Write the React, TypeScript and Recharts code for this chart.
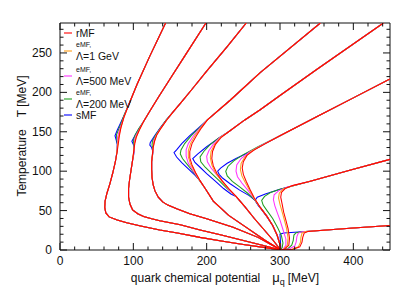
import React from 'react';
import { LineChart, Line, XAxis, YAxis, ReferenceLine } from 'recharts';

type Pt = [number, number]; // [mu_q, T] in MeV

// shared high-T part of each isentrope (from the frame edge down to where the models split)
const upper: Pt[][] = [
  [[144, 288], [122, 245], [105, 210], [94, 185]],
  [[199, 288], [170, 246], [150, 217], [135, 195], [123, 177]],
  [[254, 288], [228, 258], [200, 227], [180, 204], [165, 187], [154, 175]],
  [[355, 288], [273, 225], [232, 190], [201, 165]],
  [[441, 288], [350, 229], [300, 196], [273, 178], [252, 165], [230, 150]],
  [[450, 217], [400, 193], [350, 169], [300, 145]],
  [[450, 115], [400, 102.5], [340, 87]],
  [[450, 31], [400, 28], [350, 24.5]],
];

// shared low-T part (from where the models join again down to T = 0)
const lower: Pt[][] = [
  [[75.5, 112], [72, 98], [68, 84], [64, 72], [61.5, 62], [61, 54], [62.5, 47], [67, 42], [78, 38], [91, 34.5], [110, 30.5], [136, 25.5], [160, 21.5], [191, 16], [220, 11.5], [250, 7], [280, 3], [301, 0]],
  [[99, 114], [97, 102], [95, 90], [93.5, 78], [93.5, 67], [95.5, 58], [99, 51], [106, 46], [114, 42.5], [125, 39.5], [136, 37], [164, 32], [191, 25.5], [220, 19], [250, 12], [280, 5], [301, 0]],
  [[125, 112], [125, 102], [125.5, 92], [127, 83], [129.5, 75], [134, 67], [140, 61], [147, 57], [160, 52], [177, 46], [200, 39.5], [236, 29], [270, 16], [301, 0]],
  [[198, 78], [209, 62], [230, 44], [255, 28], [280, 12], [301, 0]],
  [[240, 68], [252, 55], [265, 40], [278, 26], [290, 13], [301, 0]],
  [[273, 54], [282, 43], [290, 31], [296, 19], [300, 7], [301, 0]],
  [[301, 0]],
  [[301, 0]],
];

// crossover part, per model
const midRMF: Pt[][] = [
  [[87, 168], [83, 155], [81, 145], [79.5, 135], [78, 125]],
  [[114, 163], [108, 152], [104, 143], [102, 135], [100.5, 125]],
  [[145.5, 165], [138, 155], [132, 146], [129, 138], [127, 130], [126, 121]],
  [[193, 155], [186, 145], [180, 135], [177, 125], [177, 117], [180, 108], [185, 98], [191, 88]],
  [[220, 143], [212, 134], [208, 125], [207, 116], [209, 107], [214, 97], [221, 88], [230, 78]],
  [[280, 135], [265, 127], [255, 120], [250, 112], [248.5, 104], [250, 96], [254, 87], [259, 77], [265, 66]],
  [[318, 82], [307, 78], [302, 73], [301, 67], [303, 58], [305, 48], [308, 38], [311, 27], [313, 15], [312, 6], [306, 1]],
  [[338, 23.5], [333, 21.5], [331, 16], [330, 10], [327, 4], [318, 1]],
];
const midE1GeV: Pt[][] = [
  [[87, 168], [83, 155], [80.5, 146], [79, 138], [78, 128], [77, 120]],
  [[114, 163], [108, 152], [103.5, 143], [101.5, 135], [100.5, 125]],
  [[145.5, 165], [138, 155], [131.5, 146], [128.5, 138], [127, 130], [126, 121]],
  [[192, 155], [184, 145], [178, 135], [175, 126], [175, 118], [178, 109], [184, 99], [190, 89]],
  [[219, 143], [211, 134], [206, 125], [205, 117], [207, 108], [212, 98], [220, 88], [229, 79]],
  [[278, 134], [262, 126], [252, 118], [247, 110], [246, 102], [248, 94], [253, 85], [259, 75], [265, 65]],
  [[315, 81], [304, 77], [299, 72], [298, 66], [300, 58], [303, 48], [306, 38], [309, 27], [311, 15], [310, 6], [305, 1]],
  [[335, 23.5], [330, 21.5], [328.5, 16], [328, 10], [325, 4], [316, 1]],
];
const midE500: Pt[][] = [
  [[87, 168], [83, 157], [80, 149], [78.5, 143], [78.5, 136], [78, 128], [77, 120]],
  [[114, 163], [108, 153], [103.5, 145], [101.5, 139], [101.5, 132], [101, 125]],
  [[145.5, 165], [137.5, 155], [131.5, 146], [128, 139], [127.5, 132], [127, 126], [126, 119]],
  [[191, 155], [182, 145], [175, 135], [172, 127], [172, 119], [175, 110], [182, 100], [189, 90]],
  [[218, 143], [209, 134], [203, 126], [200, 119], [201, 112], [206, 104], [214, 95], [223, 85], [232, 75]],
  [[275, 133], [258, 124], [247, 116], [241, 108], [240, 100], [242, 93], [248, 85], [256, 76], [264, 66]],
  [[310, 80], [298, 75], [292, 70], [291, 64], [293, 56], [296, 48], [300, 38], [304, 26], [308, 14], [308, 6], [304, 1]],
  [[330, 23], [325, 21.5], [323, 17], [322, 10], [320, 5], [313, 1.5]],
];
const midE200: Pt[][] = [
  [[87, 170], [83, 160], [79.5, 152], [77, 146], [77.5, 140], [78.5, 134], [78, 127], [77, 120]],
  [[114, 163], [107.5, 154], [102.5, 146], [100, 139], [101, 133], [101, 126], [100, 120]],
  [[145, 165], [137, 155], [130.5, 146], [126, 138], [125.5, 133], [127, 128], [126.5, 122], [125.5, 116]],
  [[190, 155], [179, 145], [170, 135], [165, 127], [164, 122], [167, 116], [174, 108], [181, 100], [188, 91]],
  [[216, 142], [204, 133], [196, 125], [191, 118], [192, 112], [198, 105], [207, 97], [217, 88], [228, 78]],
  [[270, 131], [250, 121], [237, 113], [229, 106], [226, 100], [228, 94], [235, 87], [245, 80], [256, 72], [265, 64]],
  [[300, 77], [287, 73], [279, 68], [275, 63], [277, 57], [283, 49], [290, 40], [297, 28], [302, 18], [304, 9], [303, 3]],
  [[330, 23], [322, 22], [319, 19], [318, 12], [316, 6], [311, 2]],
];
const midSMF: Pt[][] = [
  [[87, 170], [82, 160], [78, 152], [75, 145], [76.5, 140], [78, 134], [78, 128], [77, 121]],
  [[114, 163], [107, 153], [102, 145], [98, 138], [100.5, 133], [101, 127], [100.5, 121]],
  [[145, 165], [136, 154], [129, 145], [123, 136], [122.5, 133], [125, 130], [126.5, 125], [126, 120], [125.5, 116]],
  [[189, 155], [177, 145], [166, 135], [159, 127], [155.5, 123.5], [159, 118], [166, 111], [175, 103], [184, 95], [190, 89]],
  [[215, 141], [200, 131], [188, 122], [181, 116], [184, 111], [191, 105], [200, 97], [211, 88], [223, 78], [233, 71]],
  [[280, 135], [260, 125], [240, 116], [228, 110], [219, 104], [215, 100], [217, 96], [222, 91], [232, 84], [245, 76], [258, 69], [266, 63]],
  [[300, 77], [280, 71], [269, 67], [266, 63], [270, 57], [276, 50], [283, 41], [290, 31], [296, 19], [300, 7]],
  [[320, 22.5], [305, 21.5], [300, 20], [300.5, 12], [301, 5]],
];

const models = [
  { name: 'sMF', color: '#0000ff', mid: midSMF },
  { name: 'eMF200', color: '#1f9e1f', mid: midE200 },
  { name: 'eMF500', color: '#ff33ff', mid: midE500 },
  { name: 'eMF1GeV', color: '#ff9f1a', mid: midE1GeV },
  { name: 'rMF', color: '#ff0000', mid: midRMF },
];

const xMajor = [0, 100, 200, 300, 400];
const yMajor = [0, 50, 100, 150, 200, 250];
const xTicks = Array.from({ length: 23 }, (_, i) => i * 20);
const yTicks = Array.from({ length: 29 }, (_, i) => i * 10);

const W = 412;
const H = 292;
const TOP = 23;
const BOTTOM = 250;
const LEFT = 60;
const RIGHT = 390;
const INK = '#111';
const FONT = '"Liberation Sans", Arial, Helvetica, sans-serif';

function XTick({ x, payload }: any) {
  const major = xMajor.includes(payload.value);
  const len = major ? 7 : 3.5;
  return (
    <g>
      <line x1={x} x2={x} y1={BOTTOM} y2={BOTTOM - len} stroke={INK} />
      <line x1={x} x2={x} y1={TOP} y2={TOP + len} stroke={INK} />
      {major && (
        <text x={x} y={BOTTOM + 15} textAnchor="middle" fontSize={12} fill={INK} fontFamily={FONT}>
          {payload.value}
        </text>
      )}
    </g>
  );
}

function YTick({ y, payload }: any) {
  const major = yMajor.includes(payload.value);
  const len = major ? 7 : 3.5;
  return (
    <g>
      <line x1={LEFT} x2={LEFT + len} y1={y} y2={y} stroke={INK} />
      <line x1={RIGHT} x2={RIGHT - len} y1={y} y2={y} stroke={INK} />
      {major && (
        <text x={LEFT - 8} y={y + 4} textAnchor="end" fontSize={12} fill={INK} fontFamily={FONT}>
          {payload.value}
        </text>
      )}
    </g>
  );
}

// legend: two-line entries have a small "eMF," above the Λ label
const legendRows = [
  { color: '#ff0000', lineY: 33, small: '', main: 'rMF' },
  { color: '#ff9f1a', lineY: 51, small: 'eMF,', main: 'Λ=1 GeV' },
  { color: '#ff33ff', lineY: 76, small: 'eMF,', main: 'Λ=500 MeV' },
  { color: '#1f9e1f', lineY: 99, small: 'eMF,', main: 'Λ=200 MeV' },
  { color: '#0000ff', lineY: 115, small: '', main: 'sMF' },
];

export default function App() {
  const series = models.flatMap((m) =>
    upper.map((u, i) => ({
      key: `${m.name}-${i}`,
      color: m.color,
      data: [...u, ...m.mid[i], ...lower[i]].map(([mu, T]) => ({ mu, T })),
    }))
  );

  return (
    <div style={{ position: 'absolute', left: 0, top: 0, width: W, height: H, background: '#fff' }}>
      <LineChart width={W} height={H} margin={{ top: TOP, right: W - RIGHT, bottom: 0, left: 0 }}>
        <XAxis
          type="number"
          dataKey="mu"
          domain={[0, 450]}
          ticks={xTicks}
          interval={0}
          allowDataOverflow
          height={H - BOTTOM}
          tickLine={false}
          axisLine={{ stroke: INK }}
          tick={<XTick />}
        />
        <YAxis
          type="number"
          domain={[0, 288]}
          ticks={yTicks}
          interval={0}
          allowDataOverflow
          width={LEFT}
          tickLine={false}
          axisLine={{ stroke: INK }}
          tick={<YTick />}
        />
        <ReferenceLine y={288} stroke={INK} />
        <ReferenceLine x={450} stroke={INK} />
        {series.map((s) => (
          <Line
            key={s.key}
            data={s.data}
            dataKey="T"
            type="linear"
            stroke={s.color}
            strokeWidth={1.05}
            dot={false}
            activeDot={false}
            legendType="none"
            isAnimationActive={false}
          />
        ))}
      </LineChart>
      <svg
        width={W}
        height={H}
        style={{ position: 'absolute', left: 0, top: 0, pointerEvents: 'none' }}
        fontFamily={FONT}
        fill={INK}
      >
        <text x={225} y={282} textAnchor="middle" fontSize={12}>
          quark chemical potential
          <tspan dx={12} fontSize={13}>μ</tspan>
          <tspan fontSize={9} dy={3}>q</tspan>
          <tspan dy={-3} dx={3}>[MeV]</tspan>
        </text>
        <text transform="translate(26,136) rotate(-90)" textAnchor="middle" fontSize={12}>
          Temperature
          <tspan dx={12}>T [MeV]</tspan>
        </text>
        {legendRows.map((r) => (
          <g key={r.main}>
            <line x1={64} x2={72} y1={r.lineY} y2={r.lineY} stroke={r.color} strokeWidth={1.1} />
            {r.small && (
              <text x={76} y={r.lineY - 4} fontSize={7}>
                {r.small}
              </text>
            )}
            <text x={76} y={r.small ? r.lineY + 8.5 : r.lineY + 4} fontSize={10.5}>
              {r.main}
            </text>
          </g>
        ))}
      </svg>
    </div>
  );
}
